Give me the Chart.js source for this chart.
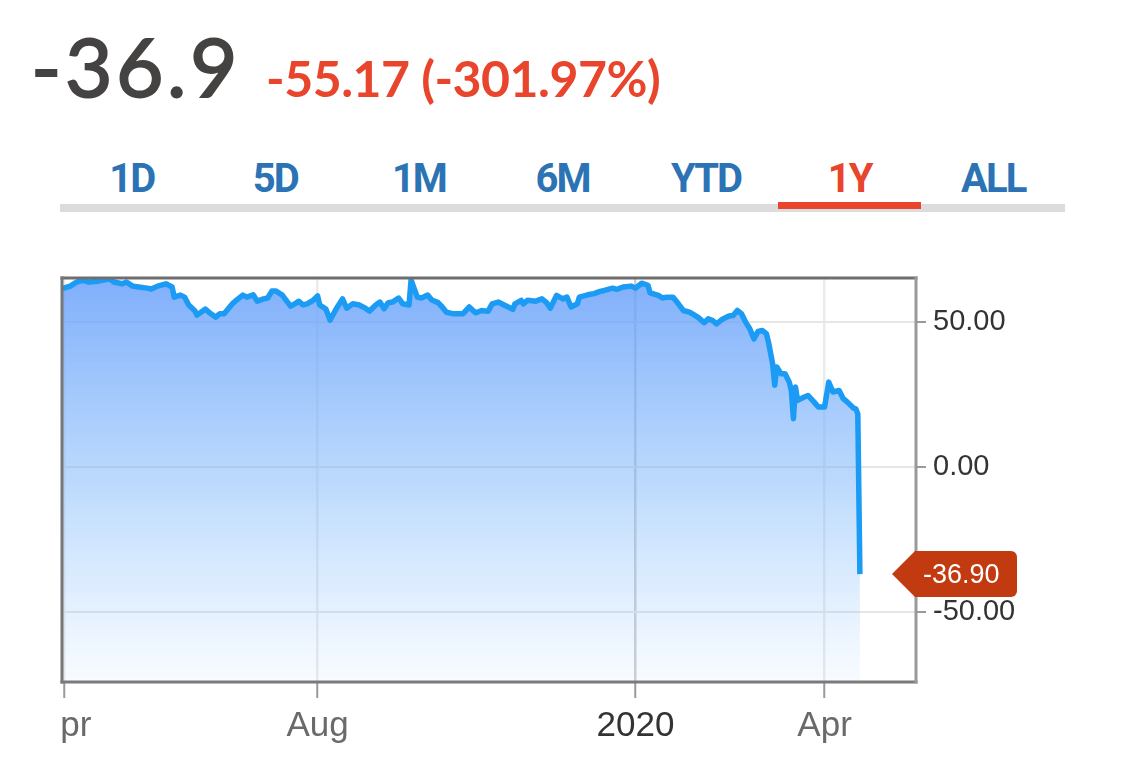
<!DOCTYPE html>
<html><head><meta charset="utf-8">
<script src="https://cdn.jsdelivr.net/npm/chart.js@4.4.1/dist/chart.umd.min.js"></script>
<style>
html,body{margin:0;padding:0;background:#fff;width:1125px;height:775px;overflow:hidden;}
#price{position:absolute;left:31px;top:24px;font:400 82px Lato, sans-serif;color:#454242;line-height:1;white-space:nowrap;letter-spacing:3.5px;-webkit-text-stroke:1.8px #454242;}
#change{position:absolute;left:266px;top:53px;font:700 50px Lato, sans-serif;color:#e8452c;line-height:1;letter-spacing:-0.5px;white-space:nowrap;}
.tab{position:absolute;top:159px;width:143.57px;text-align:center;font:700 40px Roboto, sans-serif;color:#2b73b4;line-height:1;letter-spacing:-2px;}
#bar{position:absolute;left:60px;top:204px;width:1005px;height:8px;background:#dcdcdc;}
#ul{position:absolute;top:202px;height:7px;background:#e8452c;}
#c{position:absolute;left:0;top:250px;clip-path:inset(0 0 0 60px);}
</style></head>
<body>
<div id="price"></div><div id="change"></div>
<div id="tabs"></div><div id="bar"></div><div id="ul"></div>
<canvas id="c" width="1125" height="525"></canvas>
<script>
// ---- data ----
const tabs = ["1D","5D","1M","6M","YTD","1Y","ALL"];
const activeTab = "1Y";
const dates = [
"2019-03-31","2019-04-04","2019-04-07","2019-04-10","2019-04-13","2019-04-17","2019-04-20","2019-04-23","2019-04-25","2019-04-29",
"2019-05-01","2019-05-04","2019-05-07","2019-05-11","2019-05-13","2019-05-16","2019-05-20","2019-05-23","2019-05-24","2019-05-27","2019-05-29","2019-05-31",
"2019-06-03","2019-06-04","2019-06-08","2019-06-10","2019-06-13","2019-06-15","2019-06-17","2019-06-21","2019-06-23","2019-06-26","2019-06-28",
"2019-07-01","2019-07-03","2019-07-06","2019-07-08","2019-07-10","2019-07-12","2019-07-15","2019-07-19","2019-07-21","2019-07-23","2019-07-25","2019-07-27","2019-07-30",
"2019-08-01","2019-08-02","2019-08-05","2019-08-07","2019-08-10","2019-08-13","2019-08-15","2019-08-18","2019-08-21","2019-08-24","2019-08-26","2019-08-29","2019-08-31",
"2019-09-02","2019-09-04","2019-09-06","2019-09-09","2019-09-11","2019-09-14","2019-09-15","2019-09-18","2019-09-20","2019-09-23","2019-09-25","2019-09-28","2019-09-30",
"2019-10-02","2019-10-05","2019-10-07","2019-10-10","2019-10-13","2019-10-16","2019-10-19","2019-10-22","2019-10-24","2019-10-27","2019-10-30",
"2019-11-03","2019-11-04","2019-11-07","2019-11-08","2019-11-10","2019-11-14","2019-11-17","2019-11-19","2019-11-21","2019-11-24","2019-11-27","2019-11-29",
"2019-12-01","2019-12-04","2019-12-05","2019-12-09","2019-12-12","2019-12-15","2019-12-17","2019-12-21","2019-12-23","2019-12-26","2019-12-30",
"2020-01-01","2020-01-04","2020-01-07","2020-01-08","2020-01-12","2020-01-14","2020-01-16","2020-01-19","2020-01-21","2020-01-24","2020-01-27","2020-01-31",
"2020-02-03","2020-02-05","2020-02-07","2020-02-09","2020-02-12","2020-02-15","2020-02-17","2020-02-19","2020-02-21","2020-02-23","2020-02-25","2020-02-27","2020-02-29",
"2020-03-02","2020-03-04","2020-03-05","2020-03-07","2020-03-08","2020-03-09","2020-03-11","2020-03-13","2020-03-15","2020-03-16","2020-03-17","2020-03-18","2020-03-19","2020-03-22","2020-03-24","2020-03-27","2020-03-29",
"2020-04-01","2020-04-03","2020-04-05","2020-04-08","2020-04-10","2020-04-12","2020-04-15","2020-04-16","2020-04-17","2020-04-18"
];
const prices = [
61.5,62.4,63.8,64.5,63.8,64.1,64.5,65.0,63.8,63.2,
63.8,62.4,62.1,61.7,61.4,62.4,63.2,62.1,58.6,59.3,58.6,55.9,
53.8,52.4,54.5,53.2,51.7,52.9,52.9,56.3,57.6,59.3,58.6,
59.4,57.2,58.0,58.3,60.7,60.7,59.3,55.5,56.3,57.2,55.9,56.3,57.6,
59.0,55.9,54.5,50.7,54.6,58.0,54.8,56.3,55.9,54.8,53.8,55.9,56.9,
54.6,56.7,56.9,58.3,56.3,55.9,64.5,58.6,58.3,59.3,57.6,56.7,55.2,
53.4,52.9,52.9,52.9,55.2,53.2,54.0,53.7,56.3,56.9,55.8,
54.4,56.3,57.5,56.3,57.5,57.2,58.0,56.9,54.8,59.2,58.0,58.6,
55.2,56.3,58.6,59.4,59.8,60.6,60.9,61.7,61.3,62.1,62.4,
61.7,63.4,62.7,60.1,59.2,58.3,58.6,58.6,56.9,54.0,53.4,51.7,
49.8,51.1,50.6,49.4,51.1,52.1,52.3,54.0,52.9,50.0,47.7,44.2,46.8,
47.1,46.0,43.1,35.6,28.2,34.5,32.2,32.2,29.3,26.4,16.7,27.6,23.0,24.1,24.7,22.4,20.7,
20.7,29.3,25.9,26.4,23.6,22.4,20.3,20.1,18.27,-36.9
];
const xTickDates = ["2019-04-01","2019-08-01","2020-01-01","2020-04-01"];
const xTickLabels = ["Apr","Aug","2020","Apr"];
const yTicks = [-50, 0, 50];
const xRange = ["2019-03-31","2020-05-15"];
const yRange = [-74.1, 65.2];

// ---- header ----
const last = prices[prices.length-1], prev = prices[prices.length-2];
const chg = last - prev;
document.getElementById('price').textContent = String(last);
document.getElementById('change').textContent = chg.toFixed(2) + " (" + (chg/prev*100).toFixed(2) + "%)";
const tabsEl = document.getElementById('tabs');
tabs.forEach((t,i)=>{
  const d = document.createElement('div');
  d.className='tab'; d.textContent=t;
  d.style.left = (60 + i*143.57) + 'px';
  if (t===activeTab){ d.style.color='#e8452c';
    const u=document.getElementById('ul'); u.style.left=(60+i*143.57)+'px'; u.style.width='143px'; }
  tabsEl.appendChild(d);
});

// ---- chart ----
const toDay = s => Date.UTC(+s.slice(0,4), +s.slice(5,7)-1, +s.slice(8,10)) / 864e5;

const frame = {
  id:'frame',
  afterDatasetsDraw(chart){
    const {ctx, chartArea:a} = chart;
    ctx.save(); ctx.lineWidth=3; ctx.lineCap='square';
    const seg=(x1,y1,x2,y2,c)=>{ctx.strokeStyle=c;ctx.beginPath();ctx.moveTo(x1,y1);ctx.lineTo(x2,y2);ctx.stroke();};
    seg(a.left,a.top,a.right,a.top,'#6e6e6e');
    seg(a.left,a.top,a.left,a.bottom,'#777');
    seg(a.left,a.bottom,a.right,a.bottom,'#7a7a7a');
    seg(a.right,a.top,a.right,a.bottom,'#9a9a9a');
    ctx.restore();
  }
};
const badge = {
  id:'badge',
  afterDraw(chart){
    const {ctx, chartArea:a, scales} = chart;
    const y = scales.y.getPixelForValue(last);
    const tip = a.right-24, bx = a.right-1, rx = bx+102, h = 46, r = 6;
    ctx.save();
    ctx.fillStyle='#c23a10'; ctx.lineJoin='round';
    ctx.beginPath();
    ctx.moveTo(tip,y);
    ctx.lineTo(bx,y-h/2);
    ctx.lineTo(rx-r,y-h/2);
    ctx.arcTo(rx,y-h/2,rx,y-h/2+r,r);
    ctx.lineTo(rx,y+h/2-r);
    ctx.arcTo(rx,y+h/2,rx-r,y+h/2,r);
    ctx.lineTo(bx,y+h/2);
    ctx.closePath(); ctx.fill();
    ctx.fillStyle='#fff'; ctx.font='27px "Liberation Sans", Arial, sans-serif';
    ctx.textAlign='left'; ctx.textBaseline='middle';
    ctx.fillText(last.toFixed(2), bx+8, y+1);
    ctx.restore();
  }
};

new Chart(document.getElementById('c'), {
  type:'line',
  data:{datasets:[{
    data: dates.map((d,i)=>({x:toDay(d), y:prices[i]})),
    borderColor:'#1b9bf4', borderWidth:5.5, pointRadius:0, tension:0,
    borderJoinStyle:'round', fill:'start',
    backgroundColor: (c)=>{
      const a=c.chart.chartArea; if(!a) return 'rgba(100,160,250,0.5)';
      const g=c.chart.ctx.createLinearGradient(0,a.top,0,a.bottom);
      g.addColorStop(0,'rgba(105,160,250,0.85)');
      g.addColorStop(0.5,'rgba(120,180,250,0.5)');
      g.addColorStop(1,'rgba(140,195,255,0.06)');
      return g;
    }
  }]},
  options:{
    responsive:false, animation:false, devicePixelRatio:1,
    layout:{padding:{left:62, top:28, right:0, bottom:0}},
    plugins:{legend:{display:false}, tooltip:{enabled:false}},
    scales:{
      x:{type:'linear', min:toDay(xRange[0]), max:toDay(xRange[1]),
        afterBuildTicks:s=>{ s.ticks = xTickDates.map(d=>({value:toDay(d)})); },
        ticks:{autoSkip:false, maxRotation:0, padding:7,
          callback:(v,i)=>xTickLabels[i],
          font:{family:'"Liberation Sans", Arial, sans-serif', size:35},
          color:c=> xTickLabels[c.index]==='2020' ? '#333' : '#6a6a6a'},
        grid:{lineWidth:2.5, tickLength:16, tickWidth:2, tickColor:'#9a9a9a',
          color:c=> xTickLabels[c.index]==='2020' ? '#cfcfcf' : '#ebebeb'},
        border:{display:false},
        afterFit:s=>{ s.height=93; s.paddingLeft=0; s.paddingRight=0; }
      },
      y:{position:'right', min:yRange[0], max:yRange[1],
        afterBuildTicks:s=>{ s.ticks = yTicks.map(v=>({value:v})); },
        ticks:{padding:7, callback:v=>v.toFixed(2),
          font:{family:'"Liberation Sans", Arial, sans-serif', size:29}, color:'#333'},
        grid:{color:'#e6e6e6', lineWidth:2, tickLength:10, tickColor:'#9a9a9a'},
        border:{display:false},
        afterFit:s=>{ s.width=209; s.paddingTop=0; s.paddingBottom=0; }
      }
    }
  },
  plugins:[frame, badge]
});
</script>
</body></html>
